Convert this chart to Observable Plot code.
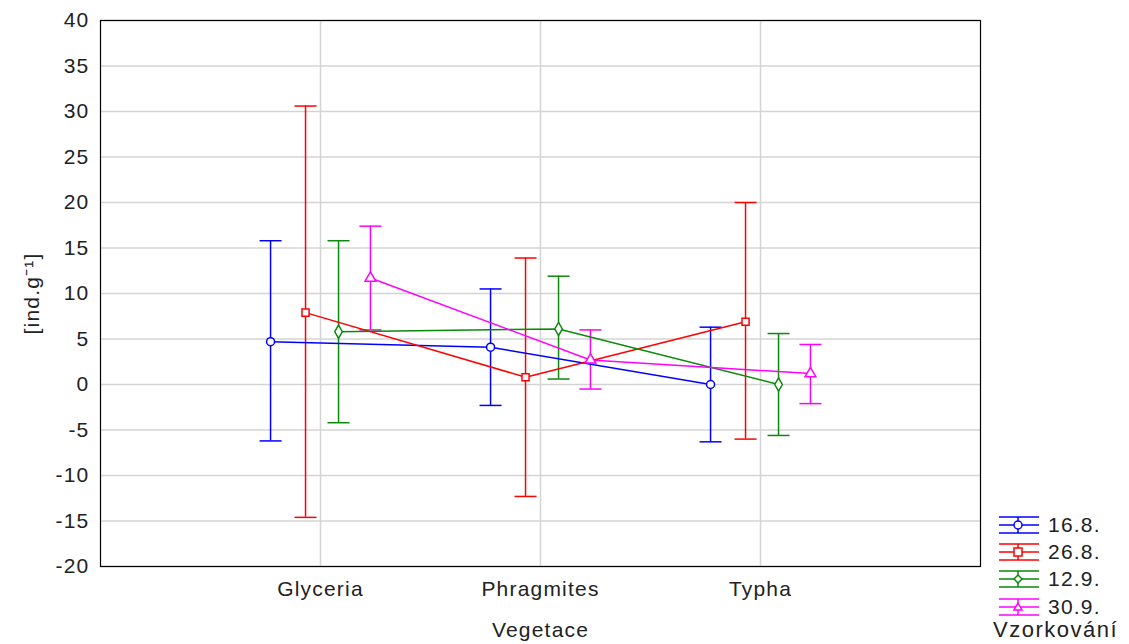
<!DOCTYPE html>
<html>
<head>
<meta charset="utf-8">
<script src="https://cdn.jsdelivr.net/npm/d3@7"></script>
<script src="https://cdn.jsdelivr.net/npm/@observablehq/plot@0.6"></script>
<style>
  html, body { margin: 0; padding: 0; background: #fff; }
  #wrap { position: relative; width: 1129px; height: 644px; font-family: "Liberation Sans", Arial, sans-serif; }
  #wrap svg text { letter-spacing: 1.2px; }
  #legend { position: absolute; left: 998px; top: 511px; }
  .lrow { display: flex; align-items: center; height: 27.3px; }
  .lrow span { font-size: 21px; margin-left: 8px; color: #222; letter-spacing: 1.2px; }
  .ltitle { font-size: 22px; color: #222; margin-left: -5px; margin-top: -3px; letter-spacing: 1.5px; }
</style>
</head>
<body>
<div id="wrap"></div>
<script>
const categories = ["Glyceria", "Phragmites", "Typha"];
const series = ["16.8.", "26.8.", "12.9.", "30.9."];
const colors = ["#0000ff", "#ff0000", "#0a8a0a", "#ff00ff"];
const symbols = ["circle", "square", "diamond", "triangle"];
const yTicks = [-20, -15, -10, -5, 0, 5, 10, 15, 20, 25, 30, 35, 40];

// means, lower and upper limits per series, per category
const mean16_8 = [4.7, 4.1, 0.0];
const low16_8  = [-6.2, -2.3, -6.3];
const up16_8   = [15.8, 10.5, 6.3];

const mean26_8 = [7.9, 0.8, 6.9];
const low26_8  = [-14.6, -12.3, -6.0];
const up26_8   = [30.6, 13.9, 20.0];

const mean12_9 = [5.8, 6.1, 0.0];
const low12_9  = [-4.2, 0.6, -5.6];
const up12_9   = [15.8, 11.9, 5.6];

const mean30_9 = [11.7, 2.7, 1.2];
const low30_9  = [6.0, -0.5, -2.1];
const up30_9   = [17.4, 6.0, 4.4];

const means = [mean16_8, mean26_8, mean12_9, mean30_9];
const lows = [low16_8, low26_8, low12_9, low30_9];
const ups = [up16_8, up26_8, up12_9, up30_9];

// dodge of each series around the category position
const dodge = [-0.227, -0.068, 0.082, 0.227];
const capHalf = 0.05;

const data = [];
series.forEach((s, si) => {
  categories.forEach((c, ci) => {
    data.push({series: s, si, cat: c, xpos: ci + 1 + dodge[si], mean: means[si][ci], low: lows[si][ci], up: ups[si][ci]});
  });
});

const chart = Plot.plot({
  width: 1129,
  height: 644,
  marginLeft: 100,
  marginRight: 149,
  marginTop: 20,
  marginBottom: 78,
  style: {fontFamily: "'Liberation Sans', Arial, sans-serif", fontSize: "21px", color: "#222", background: "white"},
  x: {domain: [0, 4]},
  y: {domain: [-20, 40]},
  color: {domain: series, range: colors},
  symbol: {domain: series, range: symbols},
  marks: [
    Plot.gridY(yTicks, {stroke: "#d4d4d4", strokeOpacity: 1, strokeWidth: 1.5}),
    Plot.gridX([1, 2, 3], {stroke: "#d4d4d4", strokeOpacity: 1, strokeWidth: 1.5}),
    Plot.axisY({ticks: yTicks, tickFormat: d => String(d), tickSize: 0, tickPadding: 11, fontSize: 21, label: "[ind.g⁻¹]", labelAnchor: "center", labelArrow: "none", labelOffset: 76}),
    Plot.axisX({ticks: [1, 2, 3], tickFormat: d => categories[d - 1], tickSize: 0, tickPadding: 15, fontSize: 21, label: "Vegetace", labelAnchor: "center", labelArrow: "none", labelOffset: 70}),
    Plot.ruleX(data, {x: "xpos", y1: "low", y2: "up", stroke: "series", strokeWidth: 1.5}),
    Plot.link(data, {x1: d => d.xpos - capHalf, x2: d => d.xpos + capHalf, y1: "up", y2: "up", stroke: "series", strokeWidth: 1.5}),
    Plot.link(data, {x1: d => d.xpos - capHalf, x2: d => d.xpos + capHalf, y1: "low", y2: "low", stroke: "series", strokeWidth: 1.5}),
    Plot.line(data, {x: "xpos", y: "mean", z: "series", stroke: "series", strokeWidth: 1.5}),
    Plot.dot(data, {x: "xpos", y: "mean", stroke: "series", symbol: "series", fill: "white", r: 4, strokeWidth: 1.5}),
    Plot.frame({stroke: "black", strokeWidth: 1.2})
  ]
});

const wrap = document.getElementById("wrap");
wrap.appendChild(chart);

// legend
const legend = document.createElement("div");
legend.id = "legend";
const symPath = {
  circle: '<circle cx="20" cy="9" r="4" fill="white" stroke="C" stroke-width="1.5"/>',
  square: '<rect x="16" y="5" width="8" height="8" fill="white" stroke="C" stroke-width="1.5"/>',
  diamond: '<path d="M20 5 L24 9 L20 13 L16 9 Z" fill="white" stroke="C" stroke-width="1.5"/>',
  triangle: '<path d="M20 5 L24 12 L16 12 Z" fill="white" stroke="C" stroke-width="1.5"/>'
};
series.forEach((s, i) => {
  const c = colors[i];
  const row = document.createElement("div");
  row.className = "lrow";
  row.innerHTML = `<svg width="42" height="18" viewBox="0 0 42 18">
    <line x1="1" x2="41" y1="1" y2="1" stroke="${c}" stroke-width="1.5"/>
    <line x1="1" x2="41" y1="9" y2="9" stroke="${c}" stroke-width="1.5"/>
    <line x1="1" x2="41" y1="17" y2="17" stroke="${c}" stroke-width="1.5"/>
    <line x1="20" x2="20" y1="1" y2="17" stroke="${c}" stroke-width="1.5"/>
    ${symPath[symbols[i]].replace(/C/g, c)}
  </svg><span>${s}</span>`;
  legend.appendChild(row);
});
const t = document.createElement("div");
t.className = "ltitle";
t.textContent = "Vzorkování";
legend.appendChild(t);
wrap.appendChild(legend);
</script>
</body>
</html>
